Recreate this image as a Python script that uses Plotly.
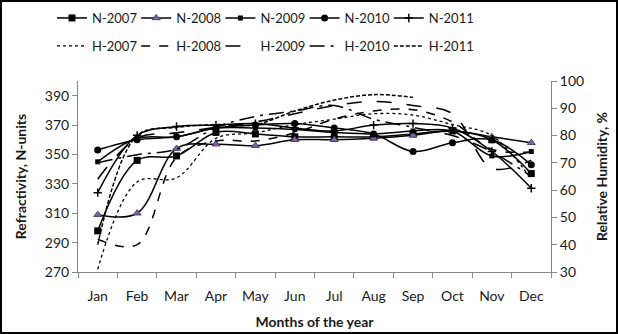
import plotly.graph_objects as go

months = ["Jan", "Feb", "Mar", "Apr", "May", "Jun", "Jul", "Aug", "Sep", "Oct", "Nov", "Dec"]

# Refractivity, N-units (left axis)
n2007 = [298, 346, 349, 365, 364, 362, 362, 362, 364, 366, 360, 337]
n2008 = [309, 310, 354, 357, 356, 360, 360, 361, 363, 366, 362, 358]
n2009 = [345, 361, 362, 368, 368, 367, 365, 364, 366, 366, 349, 352]
n2010 = [353, 360, 362, 368, 370, 371, 368, 364, 352, 358, 360, 343]
n2011 = [324, 363, 369, 370, 371, 368, 366, 370, 371, 368, 352, 327]

# Relative humidity, % (right axis)
h2007 = [31, 63, 64.5, 79, 81, 84, 86, 88, 87.5, 84, 80, 64]
h2008 = [42, 40, 72, 78, 78, 81, 86, 89, 89.5, 85, 75, 74]
h2009 = [64, 79, 81, 83, 85, 88, 91, 92.5, 91, 88, 68, 71]
h2010 = [70, 73, 75, 83, 87, 89, 91, 86, 83, 80, 74, 65]
h2011 = [40, 80, 83, 84, 84, 89, 93, 95, 94, None, None, None]

FONT = "Lato"
W, H = 618, 334
ML, MR, MT, MB = 78, 67, 81, 62

fig = go.Figure()

n_defs = [
    ("N-2007", n2007, dict(symbol="square", size=7, color="black")),
    ("N-2008", n2008, dict(symbol="triangle-up", size=7, color="#8064A2", line=dict(color="#4F3D70", width=1))),
    ("N-2009", n2009, dict(symbol="square", size=5, color="black")),
    ("N-2010", n2010, dict(symbol="circle", size=7, color="black")),
    ("N-2011", n2011, dict(symbol="cross-thin", size=6, color="black", line=dict(color="black", width=1.5))),
]
h_defs = [
    ("H-2007", h2007, "dot", 1.3),
    ("H-2008", h2008, "dash", 1.5),
    ("H-2009", h2009, "longdash", 1.6),
    ("H-2010", h2010, "longdashdot", 1.5),
    ("H-2011", h2011, "4px,2px", 1.5),
]

legends = {}
PITCH = 84.2
X0 = 52


def leg_name(k):
    return "legend" if k == 0 else f"legend{k + 1}"


def leg_cfg(col, row):
    return dict(
        orientation="h", xref="container", yref="container",
        x=(X0 + PITCH * col) / W, xanchor="left",
        y=1 - (18 if row == 0 else 46) / H, yanchor="middle",
        itemwidth=30, font=dict(size=13), bgcolor="rgba(0,0,0,0)",
        visible=True,
    )


k = 0
for i, (name, vals, mk) in enumerate(n_defs):
    ln = leg_name(k)
    legends[ln] = leg_cfg(i, 0)
    fig.add_trace(go.Scatter(
        x=months, y=vals, name=name, mode="lines+markers",
        line=dict(color="black", width=1.5, shape="spline", smoothing=1),
        marker=mk, yaxis="y", legend=ln, showlegend=True,
    ))
    k += 1

for i, (name, vals, dash, w) in enumerate(h_defs):
    ln = leg_name(k)
    legends[ln] = leg_cfg(i, 1)
    fig.add_trace(go.Scatter(
        x=months, y=vals, name=name, mode="lines",
        line=dict(color="black", width=w, dash=dash, shape="spline", smoothing=1),
        yaxis="y2", legend=ln, connectgaps=False, showlegend=True,
    ))
    k += 1

axis_col = "#868686"
fig.update_layout(
    width=W, height=H,
    showlegend=True,
    margin=dict(l=ML, r=MR, t=MT, b=MB, autoexpand=False),
    paper_bgcolor="white", plot_bgcolor="white",
    font=dict(family=FONT, size=14, color="#1a1a1a"),
    xaxis=dict(
        type="category", range=[-0.5, 11.5], showgrid=False,
        showline=True, linecolor=axis_col, linewidth=1,
        ticks="outside", tickson="boundaries", ticklen=5, tickcolor=axis_col,
        ticklabelstandoff=11,
        title=dict(text="<b>Months of the year</b>", font=dict(size=14), standoff=14),
        tickfont=dict(size=14),
    ),
    yaxis=dict(
        range=[270, 400], tickvals=[270, 290, 310, 330, 350, 370, 390],
        showgrid=False, zeroline=False, showline=True, linecolor=axis_col, linewidth=1,
        ticks="outside", ticklen=5, tickcolor=axis_col,
        title=dict(text="<b>Refractivity, N-units</b>", font=dict(size=14), standoff=14),
        tickfont=dict(size=14),
    ),
    yaxis2=dict(
        range=[30, 100], tickvals=[30, 40, 50, 60, 70, 80, 90, 100],
        overlaying="y", side="right", showgrid=False, zeroline=False,
        showline=True, linecolor=axis_col, linewidth=1,
        ticks="outside", ticklen=5, tickcolor=axis_col,
        title=dict(text="<b>Relative Humidity, %</b>", font=dict(size=14), standoff=14),
        tickfont=dict(size=14),
    ),
    shapes=[dict(
        type="rect", xref="paper", yref="paper",
        x0=(-ML + 1) / (W - ML - MR), x1=1 + (MR - 1) / (W - ML - MR),
        y0=(-MB + 1) / (H - MT - MB), y1=1 + (MT - 1) / (H - MT - MB),
        line=dict(color="black", width=2), fillcolor="rgba(0,0,0,0)", layer="above",
    )],
    **legends,
)

fig.write_html("out.html")
